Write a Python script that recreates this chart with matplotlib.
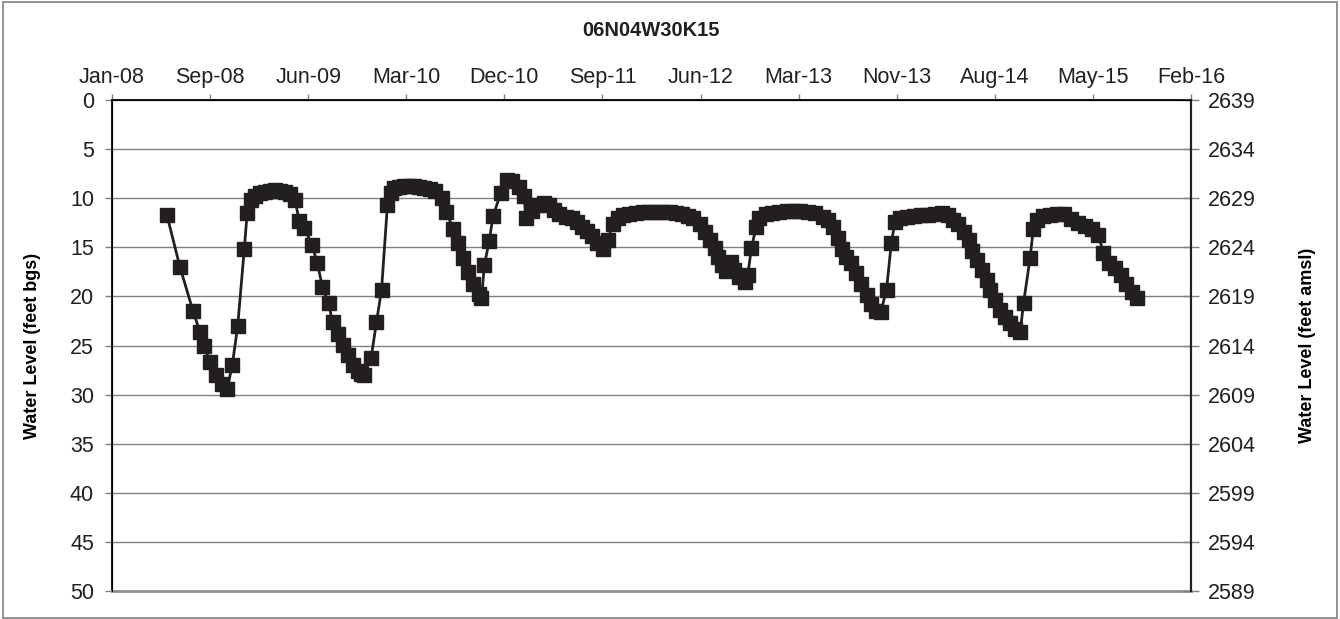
import matplotlib
matplotlib.use("Agg")
import matplotlib.pyplot as plt
import matplotlib.dates as mdates
from matplotlib.patches import Rectangle
import pandas as pd

plt.rcParams['font.family'] = ['Liberation Sans', 'DejaVu Sans']

well_id = "06N04W30K15"
ground_elev = 2639  # feet amsl at 0 ft bgs

dates = [
    "2008-05-31", "2008-07-06", "2008-08-11", "2008-08-30", "2008-09-10", "2008-09-27",
    "2008-10-13", "2008-10-30", "2008-11-13", "2008-11-27", "2008-12-12", "2008-12-30",
    "2009-01-07", "2009-01-17", "2009-01-29", "2009-02-12", "2009-02-25", "2009-03-11",
    "2009-03-25", "2009-04-08", "2009-04-21", "2009-05-05", "2009-05-19", "2009-05-30",
    "2009-06-13", "2009-07-05", "2009-07-19", "2009-08-02", "2009-08-19", "2009-08-30",
    "2009-09-13", "2009-09-27", "2009-10-11", "2009-10-24", "2009-11-07", "2009-11-17",
    "2009-11-25", "2009-12-14", "2009-12-29", "2010-01-12", "2010-01-28", "2010-02-07",
    "2010-02-16", "2010-03-02", "2010-03-15", "2010-03-29", "2010-04-12", "2010-04-26",
    "2010-05-10", "2010-05-24", "2010-06-07", "2010-06-26", "2010-07-09", "2010-07-28",
    "2010-08-10", "2010-08-24", "2010-09-07", "2010-09-20", "2010-10-06", "2010-10-14",
    "2010-10-22", "2010-11-04", "2010-11-15", "2010-12-06", "2010-12-24", "2011-01-06",
    "2011-01-25", "2011-02-08", "2011-02-13", "2011-03-02", "2011-03-16", "2011-04-04",
    "2011-04-18", "2011-05-02", "2011-05-15", "2011-06-03", "2011-06-20", "2011-07-04",
    "2011-07-19", "2011-08-01", "2011-08-15", "2011-08-29", "2011-09-13", "2011-09-27",
    "2011-10-10", "2011-10-24", "2011-11-07", "2011-11-25", "2011-12-14", "2012-01-01",
    "2012-01-19", "2012-02-07", "2012-02-25", "2012-03-15", "2012-04-01", "2012-04-18",
    "2012-05-04", "2012-05-18", "2012-06-06", "2012-06-20", "2012-07-04", "2012-07-18",
    "2012-07-27", "2012-08-05", "2012-08-18", "2012-09-01", "2012-09-09", "2012-09-23",
    "2012-10-07", "2012-10-16", "2012-10-26", "2012-11-08", "2012-11-17", "2012-12-06",
    "2012-12-23", "2013-01-11", "2013-01-31", "2013-02-19", "2013-03-10", "2013-03-30",
    "2013-04-18", "2013-05-11", "2013-05-25", "2013-06-07", "2013-06-21", "2013-07-01",
    "2013-07-14", "2013-07-28", "2013-08-11", "2013-08-25", "2013-09-08", "2013-09-21",
    "2013-10-05", "2013-10-17", "2013-11-02", "2013-11-15", "2013-11-25", "2013-12-08",
    "2013-12-28", "2014-01-16", "2014-02-04", "2014-02-23", "2014-03-15", "2014-04-03",
    "2014-04-20", "2014-05-05", "2014-05-19", "2014-06-02", "2014-06-16", "2014-06-25",
    "2014-07-09", "2014-07-22", "2014-08-05", "2014-08-14", "2014-08-28", "2014-09-11",
    "2014-09-24", "2014-10-08", "2014-10-22", "2014-11-05", "2014-11-14", "2014-12-02",
    "2014-12-11", "2014-12-20", "2015-01-07", "2015-01-25", "2015-02-14", "2015-03-05",
    "2015-03-26", "2015-04-14", "2015-05-03", "2015-05-21", "2015-06-08", "2015-06-22",
    "2015-07-06", "2015-07-25", "2015-08-08", "2015-08-22", "2015-09-09", "2015-09-23",
]
depth_bgs = [
    11.7, 17.0, 21.5, 23.6, 25.0, 26.7,
    28.0, 28.9, 29.4, 27.0, 23.0, 15.2,
    11.5, 10.2, 9.8, 9.5, 9.4, 9.3,
    9.2, 9.3, 9.4, 9.6, 10.2, 12.3,
    13.0, 14.8, 16.6, 19.0, 20.7, 22.6,
    23.8, 24.9, 26.0, 27.0, 27.6, 27.9,
    28.0, 26.3, 22.6, 19.3, 10.7, 9.5,
    9.0, 8.9, 8.8, 8.8, 8.8, 8.9,
    9.0, 9.1, 9.3, 10.0, 11.4, 13.1,
    14.6, 16.1, 17.5, 18.7, 19.8, 20.2,
    16.8, 14.4, 11.8, 9.5, 8.1, 8.2,
    8.9, 9.8, 12.0, 11.3, 10.7, 10.5,
    10.7, 11.2, 11.6, 11.9, 12.0, 12.4,
    12.9, 13.3, 13.8, 14.6, 15.2, 14.3,
    12.6, 12.0, 11.7, 11.6, 11.5, 11.4,
    11.4, 11.4, 11.4, 11.4, 11.5, 11.6,
    11.8, 12.0, 12.6, 13.4, 14.3, 15.1,
    16.0, 16.8, 17.4, 16.5, 17.3, 18.0,
    18.5, 17.8, 15.1, 12.9, 12.0, 11.6,
    11.5, 11.4, 11.3, 11.3, 11.3, 11.4,
    11.5, 11.9, 12.2, 12.9, 14.0, 15.2,
    16.0, 16.6, 17.6, 18.7, 19.9, 20.8,
    21.5, 21.6, 19.3, 14.6, 12.4, 12.0,
    11.9, 11.8, 11.7, 11.7, 11.6, 11.5,
    11.7, 12.2, 12.6, 13.4, 14.3, 15.4,
    16.3, 17.3, 18.3, 19.3, 20.4, 21.4,
    22.1, 22.7, 23.3, 23.6, 20.7, 16.1,
    13.1, 12.2, 11.8, 11.7, 11.6, 11.6,
    12.1, 12.5, 12.8, 13.1, 13.7, 15.6,
    16.6, 17.1, 17.8, 18.7, 19.5, 20.2,
]

left_ticks = [0, 5, 10, 15, 20, 25, 30, 35, 40, 45, 50]
right_ticks = [ground_elev - d for d in left_ticks]
x_start = pd.Timestamp("2008-01-01")
x_ticks = pd.date_range(x_start, periods=12, freq="270D")


def main():
    t = pd.to_datetime(dates)
    fig = plt.figure(figsize=(13.4, 6.19), dpi=100)
    ax = fig.add_axes([0.0836, 0.0452, 0.8052, 0.7932])

    for y in left_ticks[1:-1]:
        ax.axhline(y, color='#808080', lw=1.0, zorder=1)

    ax.plot(t, depth_bgs, '-', color='#231f20', lw=2.0, marker='s',
            markersize=10.5, markerfacecolor='#231f20', markeredgecolor='#231f20',
            zorder=3, clip_on=False)

    ax.set_xlim(x_ticks[0], x_ticks[-1])
    ax.set_ylim(50, 0)
    ax.set_yticks(left_ticks)
    ax.set_xticks(x_ticks)
    ax.xaxis.set_major_formatter(mdates.DateFormatter('%b-%y'))
    ax.xaxis.tick_top()
    ax.tick_params(axis='x', direction='out', length=4, width=1, color='#808080',
                   labelsize=15.5, pad=5, colors='#231f20')
    ax.tick_params(axis='y', direction='out', length=5, width=1, color='#808080',
                   labelsize=15.5, pad=8, colors='#231f20')
    ax.set_ylabel('Water Level (feet bgs)', fontsize=13, fontweight='bold', labelpad=21)

    for side in ['left', 'top', 'right']:
        ax.spines[side].set_color('#231f20')
        ax.spines[side].set_linewidth(1.5)
    ax.spines['bottom'].set_color('#909090')
    ax.spines['bottom'].set_linewidth(2.0)

    ax2 = ax.twinx()
    ax2.set_ylim(right_ticks[-1], right_ticks[0])
    ax2.set_yticks(right_ticks)
    ax2.tick_params(axis='y', direction='inout', length=12, width=1, color='#808080',
                    labelsize=15.5, pad=6, colors='#231f20')
    ax2.set_ylabel('Water Level (feet amsl)', fontsize=13, fontweight='bold',
                   labelpad=31, rotation=90)
    ax2.spines['right'].set_linewidth(1.5)
    ax2.spines['right'].set_color('#231f20')
    ax2.spines['bottom'].set_visible(False)

    fig.text(0.486, 0.951, well_id, ha='center', va='center', fontsize=14.5,
             fontweight='bold', color='#231f20')

    fig.patches.append(Rectangle((0.002, 0.002), 0.996, 0.995, transform=fig.transFigure,
                                 fill=False, edgecolor='#808080', lw=1.2))

    fig.savefig('out.png', dpi=100, facecolor='white')


if __name__ == "__main__":
    main()
